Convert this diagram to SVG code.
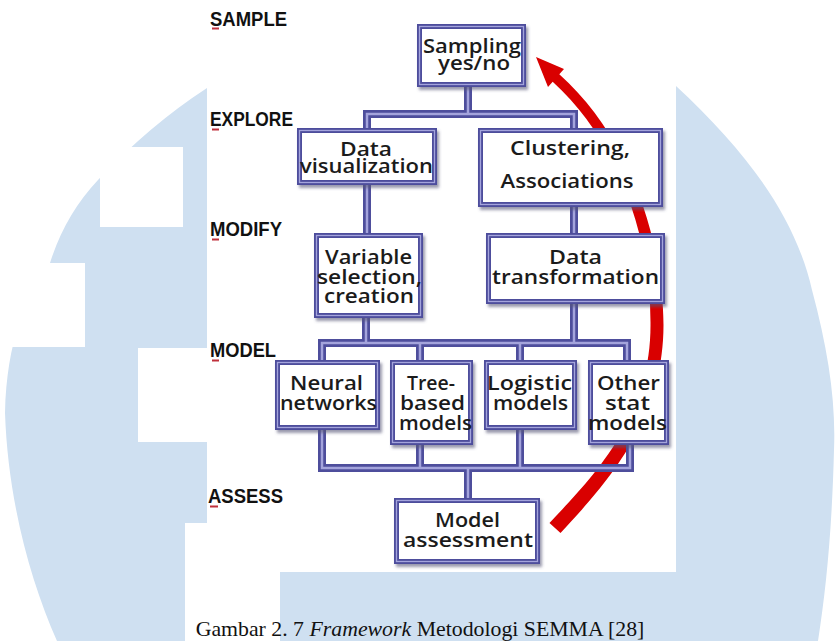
<svg xmlns="http://www.w3.org/2000/svg" width="840" height="641" viewBox="0 0 840 641">
<defs>
<style>
.bg{fill:#cfe0f1}
.wh{fill:#ffffff}
.box{fill:#ffffff;stroke:#4e4e9c;stroke-width:5;filter:url(#sh)}
.boxhl{fill:none;stroke:#a4a4dc;stroke-width:1.3}
.po{fill:none;stroke:#4e4e9c;stroke-width:8;stroke-linejoin:miter;stroke-linecap:butt}
.pi{fill:none;stroke:#a4a4dc;stroke-width:2.5;stroke-linejoin:miter}
.t{font-family:"Open Sans","DejaVu Sans","Liberation Sans",sans-serif;font-weight:600;font-size:19px;fill:#1b1b1b;text-anchor:middle}
.lvl{font-family:"Liberation Sans Narrow","Liberation Sans",Arial,sans-serif;font-weight:bold;font-size:20px;fill:#111111}
.dash{fill:#c0303c}
.cap{font-family:"Liberation Serif","Times New Roman",serif;font-size:21.8px;fill:#111111}
</style>
<filter id="sh" x="-10%" y="-10%" width="130%" height="130%">
<feDropShadow dx="2" dy="3" stdDeviation="1.5" flood-color="#555577" flood-opacity="0.6"/>
</filter>
</defs>

<g id="background">
<path class="bg" d="M 207 88 L 676 86 C 745 150 795 215 812 290 C 828 350 836 400 834 450 C 832 530 826 590 818 641 L 57 641 C 30 580 8 500 5 413 C 7 340 25 300 50 263 Q 65 215 98 180 Q 150 125 207 88 Z"/>
<rect class="wh" x="100" y="147" width="83" height="80"/>
<rect class="wh" x="0" y="263" width="85" height="84"/>
<rect class="wh" x="138" y="348" width="69" height="94"/>
<rect class="wh" x="185" y="523" width="95" height="118"/>
<rect class="wh" x="207" y="0" width="469" height="572"/>
</g>

<g id="cycle-arrow">
<path fill="#d90000" d="M 560.5 533.1 C 605.3 484.6 663.4 422.3 663.5 325 C 662.9 239 629.7 137.1 559.3 74.3 L 564 69 L 536 57 L 548 87 L 552.7 81.7 C 620.3 142.9 651.1 241 650.5 325 C 650.6 417.7 594.7 475.4 549.5 522.9 Z"/>
</g>

<g id="connectors">
<g class="po">
<path d="M 468 85 V 114"/>
<path d="M 367 131 V 114 H 574 V 131"/>
<path d="M 367 183 V 236"/>
<path d="M 574 205 V 236"/>
<path d="M 366 316 V 343"/>
<path d="M 574 302 V 343"/>
<path d="M 322 363 V 343 H 627 V 363"/>
<path d="M 420 343 V 363"/>
<path d="M 520 343 V 363"/>
<path d="M 322 428 V 468 H 630 V 443"/>
<path d="M 420 443 V 468"/>
<path d="M 520 428 V 468"/>
<path d="M 468 468 V 501"/>
</g>
<g class="pi">
<path d="M 468 85 V 114"/>
<path d="M 367 131 V 114 H 574 V 131"/>
<path d="M 367 183 V 236"/>
<path d="M 574 205 V 236"/>
<path d="M 366 316 V 343"/>
<path d="M 574 302 V 343"/>
<path d="M 322 363 V 343 H 627 V 363"/>
<path d="M 420 343 V 363"/>
<path d="M 520 343 V 363"/>
<path d="M 322 428 V 468 H 630 V 443"/>
<path d="M 420 443 V 468"/>
<path d="M 520 428 V 468"/>
<path d="M 468 468 V 501"/>
</g>
</g>

<g id="node-sampling">
<rect class="box" x="419.5" y="26.5" width="104" height="58"/>
<rect class="boxhl" x="419.5" y="26.5" width="104" height="58"/>
<text class="t" x="472" y="52.5" textLength="98" lengthAdjust="spacingAndGlyphs">Sampling</text>
<text class="t" x="474" y="70" textLength="72" lengthAdjust="spacingAndGlyphs">yes/no</text>
</g>

<g id="node-data-visualization">
<rect class="box" x="299.5" y="130.5" width="135" height="52"/>
<rect class="boxhl" x="299.5" y="130.5" width="135" height="52"/>
<text class="t" x="366" y="155.5" textLength="52" lengthAdjust="spacingAndGlyphs">Data</text>
<text class="t" x="366.5" y="172.5" textLength="133" lengthAdjust="spacingAndGlyphs">visualization</text>
</g>

<g id="node-clustering">
<rect class="box" x="480.5" y="130.5" width="180" height="74"/>
<rect class="boxhl" x="480.5" y="130.5" width="180" height="74"/>
<text class="t" x="570" y="155" textLength="120" lengthAdjust="spacingAndGlyphs">Clustering,</text>
<text class="t" x="567" y="187.5" textLength="133" lengthAdjust="spacingAndGlyphs">Associations</text>
</g>

<g id="node-variable-selection">
<rect class="box" x="316.5" y="235.5" width="104" height="80"/>
<rect class="boxhl" x="316.5" y="235.5" width="104" height="80"/>
<text class="t" x="368.5" y="264" textLength="87" lengthAdjust="spacingAndGlyphs">Variable</text>
<text class="t" x="369.5" y="283.5" textLength="105" lengthAdjust="spacingAndGlyphs">selection,</text>
<text class="t" x="369" y="303" textLength="90" lengthAdjust="spacingAndGlyphs">creation</text>
</g>

<g id="node-data-transformation">
<rect class="box" x="488.5" y="235.5" width="174" height="66"/>
<rect class="boxhl" x="488.5" y="235.5" width="174" height="66"/>
<text class="t" x="575.5" y="264" textLength="53" lengthAdjust="spacingAndGlyphs">Data</text>
<text class="t" x="575.5" y="283.5" textLength="167" lengthAdjust="spacingAndGlyphs">transformation</text>
</g>

<g id="node-neural-networks">
<rect class="box" x="277.5" y="362.5" width="100" height="65"/>
<rect class="boxhl" x="277.5" y="362.5" width="100" height="65"/>
<text class="t" x="326.5" y="390" textLength="73" lengthAdjust="spacingAndGlyphs">Neural</text>
<text class="t" x="328.5" y="410" textLength="97" lengthAdjust="spacingAndGlyphs">networks</text>
</g>

<g id="node-tree-based">
<rect class="box" x="392.5" y="362.5" width="78" height="80"/>
<rect class="boxhl" x="392.5" y="362.5" width="78" height="80"/>
<text class="t" x="431" y="390" textLength="48" lengthAdjust="spacingAndGlyphs">Tree-</text>
<text class="t" x="432.5" y="410" textLength="65" lengthAdjust="spacingAndGlyphs">based</text>
<text class="t" x="435.5" y="430" textLength="73" lengthAdjust="spacingAndGlyphs">models</text>
</g>

<g id="node-logistic">
<rect class="box" x="486.5" y="362.5" width="88" height="65"/>
<rect class="boxhl" x="486.5" y="362.5" width="88" height="65"/>
<text class="t" x="529.5" y="390" textLength="85" lengthAdjust="spacingAndGlyphs">Logistic</text>
<text class="t" x="530.5" y="410" textLength="75" lengthAdjust="spacingAndGlyphs">models</text>
</g>

<g id="node-other-stat">
<rect class="box" x="590.5" y="362.5" width="76" height="80"/>
<rect class="boxhl" x="590.5" y="362.5" width="76" height="80"/>
<text class="t" x="628.5" y="390" textLength="63" lengthAdjust="spacingAndGlyphs">Other</text>
<text class="t" x="627.5" y="410" textLength="45" lengthAdjust="spacingAndGlyphs">stat</text>
<text class="t" x="627.5" y="430" textLength="79" lengthAdjust="spacingAndGlyphs">models</text>
</g>

<g id="node-model-assessment">
<rect class="box" x="396.5" y="500.5" width="141" height="61"/>
<rect class="boxhl" x="396.5" y="500.5" width="141" height="61"/>
<text class="t" x="467.5" y="527" textLength="65" lengthAdjust="spacingAndGlyphs">Model</text>
<text class="t" x="468" y="547" textLength="130" lengthAdjust="spacingAndGlyphs">assessment</text>
</g>

<g id="level-labels">
<text class="lvl" x="210" y="26" textLength="77" lengthAdjust="spacingAndGlyphs">SAMPLE</text>
<rect class="dash" x="212" y="27.5" width="7" height="2"/>
<text class="lvl" x="210" y="126" textLength="83" lengthAdjust="spacingAndGlyphs">EXPLORE</text>
<rect class="dash" x="212" y="128.5" width="7" height="2"/>
<text class="lvl" x="210" y="236" textLength="72" lengthAdjust="spacingAndGlyphs">MODIFY</text>
<rect class="dash" x="212" y="238.5" width="7" height="2"/>
<text class="lvl" x="210" y="357" textLength="66" lengthAdjust="spacingAndGlyphs">MODEL</text>
<rect class="dash" x="212" y="359.5" width="7" height="2"/>
<text class="lvl" x="208" y="503" textLength="75" lengthAdjust="spacingAndGlyphs">ASSESS</text>
<rect class="dash" x="210" y="505.5" width="8" height="2"/>
</g>

<text class="cap" x="420" y="636" text-anchor="middle">Gambar 2. 7 <tspan font-style="italic">Framework</tspan> Metodologi SEMMA [28]</text>
</svg>
